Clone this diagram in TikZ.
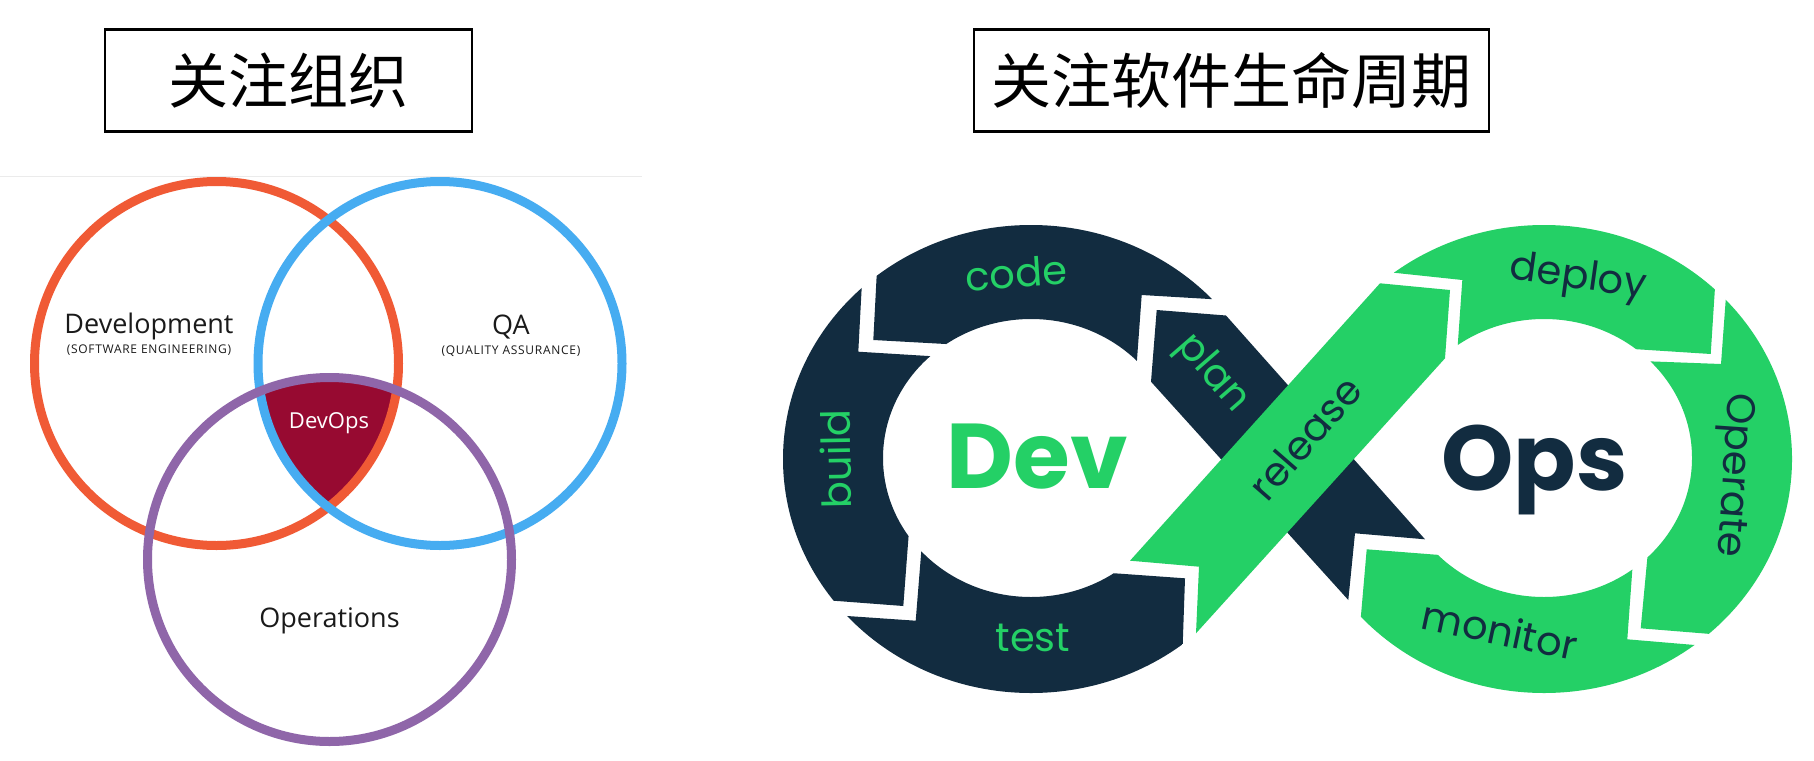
\documentclass[tikz,border=0pt]{standalone}
\usepackage{fontspec}
\setmainfont{Open Sans}
\newfontfamily\popfont{Poppins}
\newfontfamily\cjkfont{Noto Sans CJK SC}
\definecolor{vorange}{HTML}{F05A35}
\definecolor{vblue}{HTML}{46ACF1}
\definecolor{vpurple}{HTML}{8F66A9}
\definecolor{vcrimson}{HTML}{970A31}
\definecolor{dnavy}{HTML}{122C40}
\definecolor{dgreen}{HTML}{24D066}
\definecolor{vtext}{HTML}{1A1A1A}
\tikzset{
  titlebox/.style={draw=black, line width=2.5pt, minimum width=#1, minimum height=102pt, inner sep=0pt, font=\cjkfont\fontsize{60}{60}\selectfont},
  vring/.style={line width=9pt},
  vbig/.style={font=\fontsize{27}{30}\selectfont, text=vtext, inner sep=0pt, anchor=base},
  vsmall/.style={font=\fontsize{12}{14}\selectfont\addfontfeature{LetterSpace=6}, text=vtext, inner sep=0pt, anchor=base},
  lbl/.style={font=\popfont\fontsize{40}{40}\selectfont, inner sep=0pt},
  bigword/.style={font=\popfont\bfseries\fontsize{92}{92}\selectfont, inner sep=0pt, anchor=base},
}
\begin{document}
\begin{tikzpicture}[x=1pt,y=-1pt]
\useasboundingbox (0,0) rectangle (1814,760);
\fill[white] (0,0) rectangle (1814,760);

% ---------- titles ----------
\node[titlebox=367pt] (t1) at (288.5,80.4) {关注组织};
\node[titlebox=515pt] (t2) at (1231.5,80.4) {关注软件生命周期};

\draw[black!8, line width=1pt] (0,176) -- (642,176);

% ---------- Venn ----------
\begin{scope}
  \clip (216.5,363.5) circle[radius=182];
  \clip (440,363.5) circle[radius=182];
  \fill[vcrimson] (329.5,559.5) circle[radius=182];
\end{scope}
\draw[vring, vorange] (216.5,363.5) circle[radius=182];
\draw[vring, vblue] (440,363.5) circle[radius=182];
\draw[vring, vpurple] (329.5,559.5) circle[radius=182];

\node[vbig] (vdev) at (149,333) {Development};
\node[vsmall] (vdevsub) at (149,353.5) {(SOFTWARE ENGINEERING)};
\node[vbig] (vqa) at (511,334) {QA};
\node[vsmall] (vqasub) at (511,354.5) {(QUALITY ASSURANCE)};
\node[vbig, font=\fontsize{22}{24}\selectfont, text=white] (vdevops) at (329,428) {DevOps};
\node[vbig] (vops) at (329.5,627) {Operations};

% ---------- DevOps loop ----------
% Dev ring segments
\begin{scope}
  \clip (880.6,200) -- (1260,200) -- (1260,302) -- (1141.7,295) -- (1132.6,420) -- (1000,347) -- (873.3,340) -- cycle;
  \fill[dnavy, even odd rule] (1031,459) ellipse[x radius=248, y radius=234] (1031,458) ellipse[x radius=148, y radius=139];
\end{scope}
\begin{scope}
  \clip (866.3,200) -- (700,200) -- (700,590.6) -- (903.3,606) -- (912.8,480) -- (990,359.8) -- (858.3,351.7) -- cycle;
  \fill[dnavy, even odd rule] (1031,459) ellipse[x radius=248, y radius=234] (1031,458) ellipse[x radius=148, y radius=139];
\end{scope}
\begin{scope}
  \clip (780,611.4) -- (780,720) -- (1180.1,720) -- (1185,578.3) -- (1060,569.4) -- (923.8,520) -- (915.7,620.7) -- cycle;
  \fill[dnavy, even odd rule] (1031,459) ellipse[x radius=248, y radius=234] (1031,458) ellipse[x radius=148, y radius=139];
\end{scope}
% plan band (under release)
\fill[dnavy] (1156.7,310) -- (1226,315.5) -- (1425,539.3) -- (1355,533.3) -- (1348.3,600) -- (1151,381.7) -- cycle;
% release band
\fill[dgreen] (1130,560.7) -- (1380,283.3) -- (1450,290) -- (1445,358.3) -- (1196,633.3) -- (1199,566.7) -- cycle;
% Ops ring segments
\begin{scope}
  \clip (1340,267) -- (1340,200) -- (1720.6,200) -- (1710.7,354) -- (1580,345.6) -- (1453.9,400) -- (1462.3,280) -- cycle;
  \fill[dgreen, even odd rule] (1544,459) ellipse[x radius=248, y radius=234] (1544,458) ellipse[x radius=148, y radius=139];
\end{scope}
\begin{scope}
  \clip (1733,200) -- (1850,200) -- (1850,645.3) -- (1640.7,628.3) -- (1652.8,500) -- (1600,359.5) -- (1721,364) -- cycle;
  \fill[dgreen, even odd rule] (1544,459) ellipse[x radius=248, y radius=234] (1544,458) ellipse[x radius=148, y radius=139];
\end{scope}
\begin{scope}
  \clip (1780,652.2) -- (1780,720) -- (1351.9,720) -- (1366.7,549.3) -- (1490,558.9) -- (1635.9,520) -- (1627.3,639.3) -- cycle;
  \fill[dgreen, even odd rule] (1544,459) ellipse[x radius=248, y radius=234] (1544,458) ellipse[x radius=148, y radius=139];
\end{scope}

% labels
\node[lbl, text=dgreen, rotate=4] (lcode) at (1016,273) {code};
\node[lbl, text=dgreen, rotate=-49] (lplan) at (1212,374) {plan};
\node[lbl, text=dgreen, rotate=91] (lbuild) at (836,459) {build};
\node[lbl, text=dgreen] (ltest) at (1033,638) {test};
\node[lbl, text=dnavy, rotate=49] (lrelease) at (1305,438) {release};
\node[lbl, text=dnavy, rotate=-8] (ldeploy) at (1578,279) {deploy};
\node[lbl, text=dnavy, rotate=-94] (loperate) at (1732,475) {Operate};
\node[lbl, text=dnavy, rotate=-12] (lmonitor) at (1500,630) {monitor};
\node[bigword, text=dgreen] (wdev) at (1037.5,488) {Dev};
\node[bigword, text=dnavy] (wops) at (1534.7,490) {Ops};
\end{tikzpicture}
\end{document}
